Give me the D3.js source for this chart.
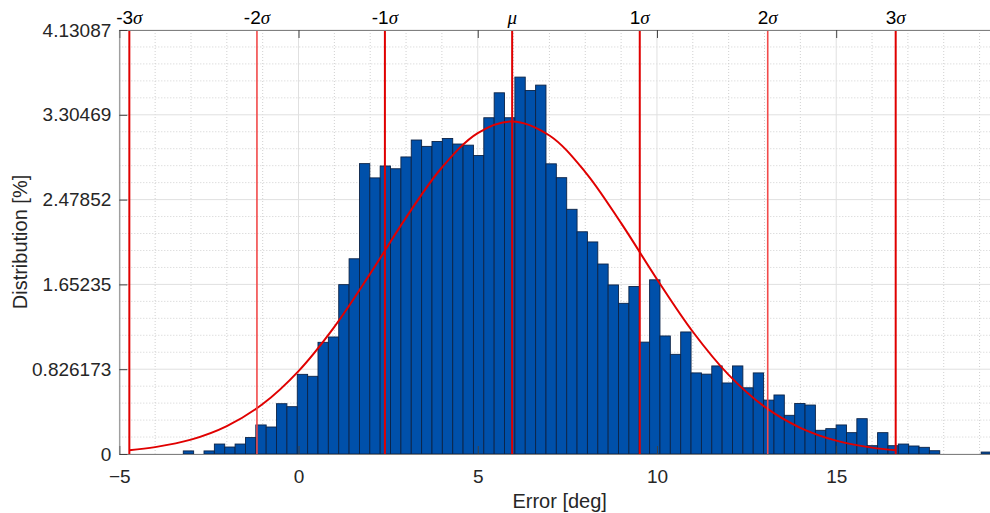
<!DOCTYPE html>
<html>
<head>
<meta charset="utf-8">
<script src="https://cdn.jsdelivr.net/npm/d3@7"></script>
<style>
  body { margin: 0; background: #fff; }
  svg { display: block; font-family: "Liberation Sans", Arial, sans-serif; }
</style>
</head>
<body>
<svg id="chart" width="990" height="513"></svg>
<script>
// histogram of the error, percent per bin
const binStart = -3.215
const binWidth = 0.2891
const binValues = [
    0.03, 0, 0.03, 0.097, 0.068, 0.097, 0.16, 0.283, 0.263, 0.49,
    0.461, 0.776, 0.757, 1.088, 1.14, 1.65, 1.902, 2.829, 2.69, 2.806,
    2.779, 2.894, 3.059, 2.997, 3.045, 3.074, 3.02, 3.009, 2.908, 3.276,
    3.519, 3.276, 3.672, 3.542, 3.594, 2.827, 2.692, 2.384, 2.165, 2.066,
    1.851, 1.647, 1.468, 1.632, 1.09, 1.697, 1.15, 0.971, 1.189, 0.79,
    0.778, 0.858, 0.692, 0.858, 0.645, 0.79, 0.525, 0.575, 0.377, 0.492,
    0.477, 0.231, 0.247, 0.283, 0.208, 0.344, 0.081, 0.208, 0.081, 0.097,
    0.078, 0.065, 0.032, 0, 0, 0, 0, 0.019
]

// fitted normal curve
const fitX = [-4.72, -4, -3, -2, -1, 0, 1, 2, 3, 4, 5, 5.96, 7, 8, 9, 10, 11, 12, 13, 14, 15, 16, 16.66]
const fitY = [0.037, 0.067, 0.14, 0.272, 0.487, 0.808, 1.239, 1.757, 2.303, 2.791, 3.127, 3.24,
    3.103, 2.747, 2.249, 1.703, 1.191, 0.771, 0.461, 0.255, 0.13, 0.062, 0.036]

// mean and sigma markers
const sigmaX = [-4.72, -1.16, 2.41, 5.96, 9.52, 13.09, 16.66]
const sigmaPrefix = ['-3', '-2', '-1', '', '1', '2', '3']
const sigmaSymbol = ['σ', 'σ', 'σ', 'μ', 'σ', 'σ', 'σ']
const sigmaLight = [false, true, false, false, false, true, false]

const xTicks = [-5, 0, 5, 10, 15]
const yTicks = [0, 0.826173, 1.65235, 2.47852, 3.30469, 4.13087]
const yTickLabels = ['0', '0.826173', '1.65235', '2.47852', '3.30469', '4.13087']

const config = {
    left: 119.3,
    top: 30,
    width: 880.7,
    height: 424
}

const svg = d3.select('#chart')
const g = svg.append('g')
    .attr('transform', 'translate(' + config.left + ',' + config.top + ')')

const x = d3.scaleLinear()
    .domain([-5, 19.57])
    .range([0, config.width])

const y = d3.scaleLinear()
    .domain([0, 4.13087])
    .range([config.height, 0])

function drawGrid(g){
    const minorX = d3.range(-5, 20, 1).filter(v => xTicks.indexOf(v) < 0)
    const minorY = d3.range(1, 25).filter(i => i % 5 != 0).map(i => i * 4.13087 / 25)

    g.append('g').selectAll('line')
        .data(minorX)
        .enter().append('line')
        .attr('x1', d => x(d)).attr('x2', d => x(d))
        .attr('y1', 0).attr('y2', config.height)
        .attr('stroke', '#d0d0d0')
        .attr('stroke-dasharray', '1,2')

    g.append('g').selectAll('line')
        .data(minorY)
        .enter().append('line')
        .attr('x1', 0).attr('x2', config.width)
        .attr('y1', d => y(d)).attr('y2', d => y(d))
        .attr('stroke', '#d0d0d0')
        .attr('stroke-dasharray', '1,2')

    // major grid
    g.append('g').selectAll('line')
        .data(xTicks)
        .enter().append('line')
        .attr('x1', d => x(d)).attr('x2', d => x(d))
        .attr('y1', 0).attr('y2', config.height)
        .attr('stroke', '#e0e0e0')

    g.append('g').selectAll('line')
        .data(yTicks)
        .enter().append('line')
        .attr('x1', 0).attr('x2', config.width)
        .attr('y1', d => y(d)).attr('y2', d => y(d))
        .attr('stroke', '#e0e0e0')
}

function drawBars(g){
    g.append('g').selectAll('rect')
        .data(binValues)
        .enter().append('rect')
        .attr('x', (d, i) => x(binStart + i * binWidth))
        .attr('width', x(binStart + binWidth) - x(binStart))
        .attr('y', d => y(d))
        .attr('height', d => y(0) - y(d))
        .attr('fill', '#0050aa')
        .attr('stroke', '#0c2346')
        .attr('stroke-width', 0.9)
}

function drawAxes(g){
    // bottom axis, ticks pointing inward
    g.append('g')
        .attr('transform', 'translate(0,' + config.height + ')')
        .call(d3.axisBottom(x).tickValues(xTicks).tickSizeInner(-8).tickSizeOuter(0).tickPadding(16))
    // top axis, no labels
    g.append('g')
        .call(d3.axisTop(x).tickValues(xTicks).tickSizeInner(-8).tickSizeOuter(0).tickFormat(''))
    // left axis
    g.append('g')
        .call(d3.axisLeft(y).tickValues(yTicks).tickSizeInner(-8).tickSizeOuter(0).tickPadding(8)
            .tickFormat((d, i) => yTickLabels[i]))

    g.selectAll('.domain').attr('stroke', '#808080')
    g.selectAll('.tick line').attr('stroke', '#404040')
    g.selectAll('.tick text')
        .attr('fill', '#262626')
        .style('font-size', '19px')
        .style('font-family', '"Liberation Sans", Arial, sans-serif')

    g.append('text')
        .attr('x', config.width / 2)
        .attr('y', config.height + 54)
        .attr('text-anchor', 'middle')
        .attr('fill', '#262626')
        .style('font-size', '20px')
        .text('Error [deg]')

    g.append('text')
        .attr('transform', 'translate(-92,' + (config.height / 2) + ') rotate(-90)')
        .attr('text-anchor', 'middle')
        .attr('fill', '#262626')
        .style('font-size', '20px')
        .text('Distribution [%]')
}

function drawFit(g){
    const line = d3.line()
        .x((d, i) => x(fitX[i]))
        .y(d => y(d))
        .curve(d3.curveCatmullRom)

    g.append('path')
        .datum(fitY)
        .attr('d', line)
        .attr('fill', 'none')
        .attr('stroke', '#e00000')
        .attr('stroke-width', 2)
}

function drawSigma(g){
    g.append('g').selectAll('line')
        .data(sigmaX)
        .enter().append('line')
        .attr('x1', d => x(d)).attr('x2', d => x(d))
        .attr('y1', 0).attr('y2', config.height)
        .attr('stroke', (d, i) => sigmaLight[i] ? '#f24a4a' : '#e00000')
        .attr('stroke-width', (d, i) => sigmaLight[i] ? 1.6 : 2)

    const labels = g.append('g').selectAll('text')
        .data(sigmaX)
        .enter().append('text')
        .attr('x', d => x(d))
        .attr('y', -6)
        .attr('text-anchor', 'middle')
        .attr('fill', '#000')
        .style('font-size', '19px')

    labels.append('tspan').text((d, i) => sigmaPrefix[i])
    labels.append('tspan')
        .style('font-style', 'italic')
        .style('font-family', '"Liberation Serif", serif')
        .text((d, i) => sigmaSymbol[i])
}

drawGrid(g)
drawBars(g)
drawFit(g)
drawSigma(g)
drawAxes(g)
</script>
</body>
</html>
